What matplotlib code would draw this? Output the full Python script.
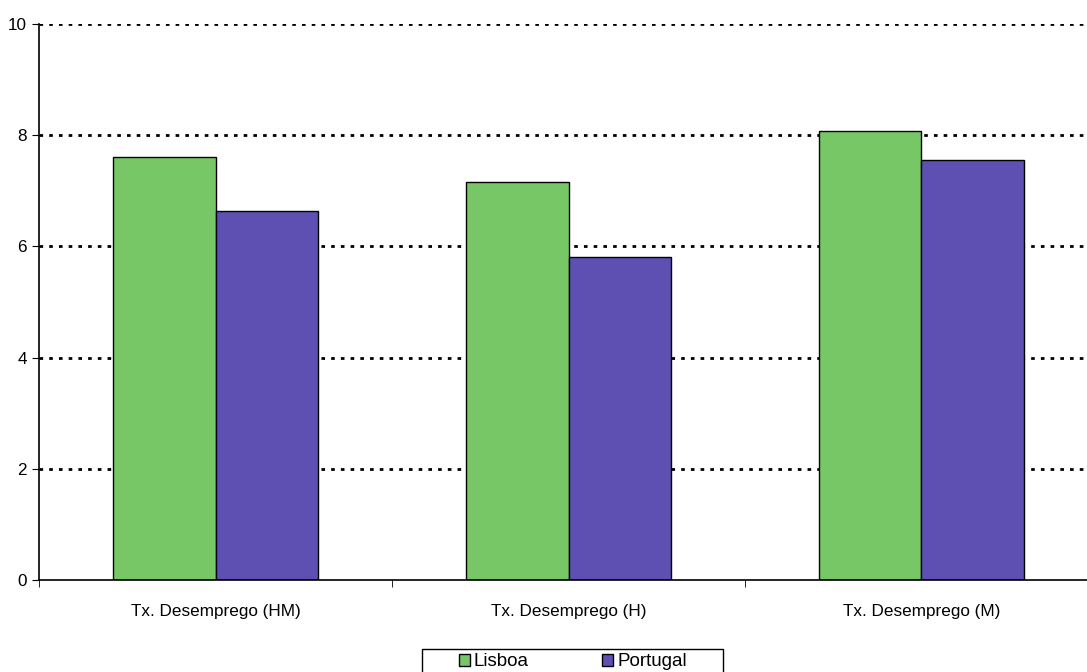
import numpy as np
import matplotlib.pyplot as plt
from matplotlib.ticker import FixedLocator
from matplotlib.patches import Rectangle

plt.rcParams['font.family'] = ['Liberation Sans', 'DejaVu Sans']

# data
categories = ['Tx. Desemprego (HM)', 'Tx. Desemprego (H)', 'Tx. Desemprego (M)']
lisboa = [7.61, 7.16, 8.08]
portugal = [6.64, 5.81, 7.55]

green = '#78c766'
purple = '#5d50b2'

fig = plt.figure(figsize=(10.87, 6.72), dpi=100)
ax = fig.add_axes([0.036, 0.137, 0.974, 0.827])

x = np.arange(len(categories))
w = 0.29
ax.bar(x - w / 2, lisboa, w, color=green, edgecolor='black', linewidth=1, label='Lisboa', zorder=3)
ax.bar(x + w / 2, portugal, w, color=purple, edgecolor='black', linewidth=1, label='Portugal', zorder=3)

ax.set_xlim(-0.5, 2.5)
ax.set_ylim(0, 10)
ax.set_yticks([0, 2, 4, 6, 8, 10])
ax.set_xticks(x)
ax.set_xticklabels(categories, fontsize=12.3)
ax.tick_params(axis='x', length=0, pad=17)
ax.xaxis.set_minor_locator(FixedLocator([-0.5, 0.5, 1.5, 2.5]))
ax.tick_params(axis='x', which='minor', length=5, direction='out')
ax.tick_params(axis='y', length=5, direction='out', labelsize=12.3, pad=4)

# dotted grid lines (skip the one at 0)
for yv in [2, 4, 6, 8, 10]:
    ax.axhline(yv, linestyle=(0, (1.3, 2.2)), color='black', linewidth=2, zorder=0)
ax.spines['top'].set_visible(False)
ax.spines['right'].set_visible(False)
ax.spines['left'].set_linewidth(1.2)
ax.spines['bottom'].set_linewidth(1.2)
ax.spines['bottom'].set_zorder(4)

# legend without frame, box drawn separately so it can be wider than the entries
fig.legend(loc='center', bbox_to_anchor=(0.527, 0.015), ncol=2, frameon=False,
           fontsize=13.5, handlelength=0.6, handleheight=0.6, handletextpad=0.2,
           columnspacing=3.9, borderpad=0)
fig.patches.append(Rectangle((0.388, -0.05), 0.277, 0.084, transform=fig.transFigure,
                             fill=False, edgecolor='black', linewidth=1))

fig.savefig('out.png', dpi=100)
